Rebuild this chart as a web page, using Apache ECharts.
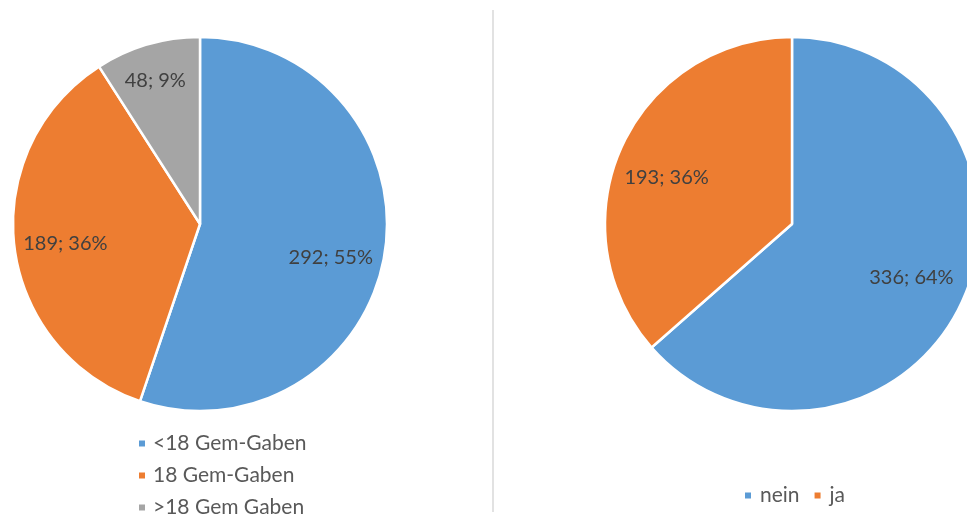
<!DOCTYPE html>
<html>
<head>
<meta charset="utf-8">
<script src="https://cdn.jsdelivr.net/npm/echarts@6/dist/echarts.min.js"></script>
<style>
  html, body { margin: 0; padding: 0; background: #fff; }
  #chart { width: 967px; height: 517px; }
</style>
</head>
<body>
<div id="chart"></div>
<script>
// Gemcitabin doses per patient
const doseCategories = ['<18 Gem-Gaben', '18 Gem-Gaben', '>18 Gem Gaben'];
const doseCounts = [292, 189, 48];

// Second breakdown: nein / ja
const ynCategories = ['nein', 'ja'];
const ynCounts = [336, 193];

const colors = ['#5B9BD5', '#ED7D31', '#A5A5A5'];
const font = 'Lato, "Open Sans", sans-serif';

// small nudges of the value labels, per pie and slice
const doseLabelShift = [{ dx: -5, dy: 11 }, { dx: 2, dy: 3 }, { dx: -6, dy: -11 }];
const ynLabelShift = [{ dx: -6, dy: -3 }, { dx: 0, dy: 10 }];

function toData(cats, vals) {
  return cats.map((c, i) => ({ name: c, value: vals[i], itemStyle: { color: colors[i] } }));
}

function pctLabel(p) {
  return p.value + '; ' + Math.round(p.percent) + '%';
}

const R = 187;

function pieSeries(cats, vals, center, shifts) {
  return [
    {
      type: 'pie',
      center: center,
      radius: [0, R],
      startAngle: 90,
      clockwise: true,
      silent: true,
      label: { show: false },
      labelLine: { show: false },
      itemStyle: { borderColor: '#fff', borderWidth: 2.5 },
      data: toData(cats, vals)
    },
    {
      // transparent ring that carries the value labels further out
      type: 'pie',
      center: center,
      radius: [R * 0.44, R],
      startAngle: 90,
      clockwise: true,
      silent: true,
      itemStyle: { color: 'rgba(0,0,0,0)' },
      label: {
        show: true,
        position: 'inside',
        formatter: pctLabel,
        color: '#404040',
        fontFamily: font,
        fontSize: 20
      },
      labelLine: { show: false },
      labelLayout: function (p) {
        return shifts[p.dataIndex] || {};
      },
      data: cats.map((c, i) => ({ name: c, value: vals[i] }))
    }
  ];
}

const chart = echarts.init(document.getElementById('chart'), null, { renderer: 'canvas' });

chart.setOption({
  animation: false,
  backgroundColor: '#fff',
  legend: [
    {
      orient: 'vertical',
      left: 137,
      top: 433,
      height: 200,
      padding: 0,
      icon: 'rect',
      itemWidth: 8,
      itemHeight: 8,
      itemGap: 11,
      textStyle: { color: '#595959', fontFamily: font, fontSize: 21, padding: [0, 0, 0, 2] },
      data: doseCategories.map((c, i) => ({ name: c, itemStyle: { color: colors[i] } }))
    },
    {
      orient: 'horizontal',
      left: 743,
      top: 485,
      padding: 0,
      icon: 'rect',
      itemWidth: 8,
      itemHeight: 8,
      itemGap: 13,
      textStyle: { color: '#595959', fontFamily: font, fontSize: 21, padding: [0, 0, 0, 3] },
      data: ynCategories.map((c, i) => ({ name: c, itemStyle: { color: colors[i] } }))
    }
  ],
  graphic: [
    {
      type: 'line',
      shape: { x1: 493, y1: 10, x2: 493, y2: 512 },
      style: { stroke: '#d9d9d9', lineWidth: 1.5 },
      silent: true
    }
  ],
  series: [
    ...pieSeries(doseCategories, doseCounts, [200, 224], doseLabelShift),
    ...pieSeries(ynCategories, ynCounts, [792, 224], ynLabelShift)
  ]
});
</script>
</body>
</html>
